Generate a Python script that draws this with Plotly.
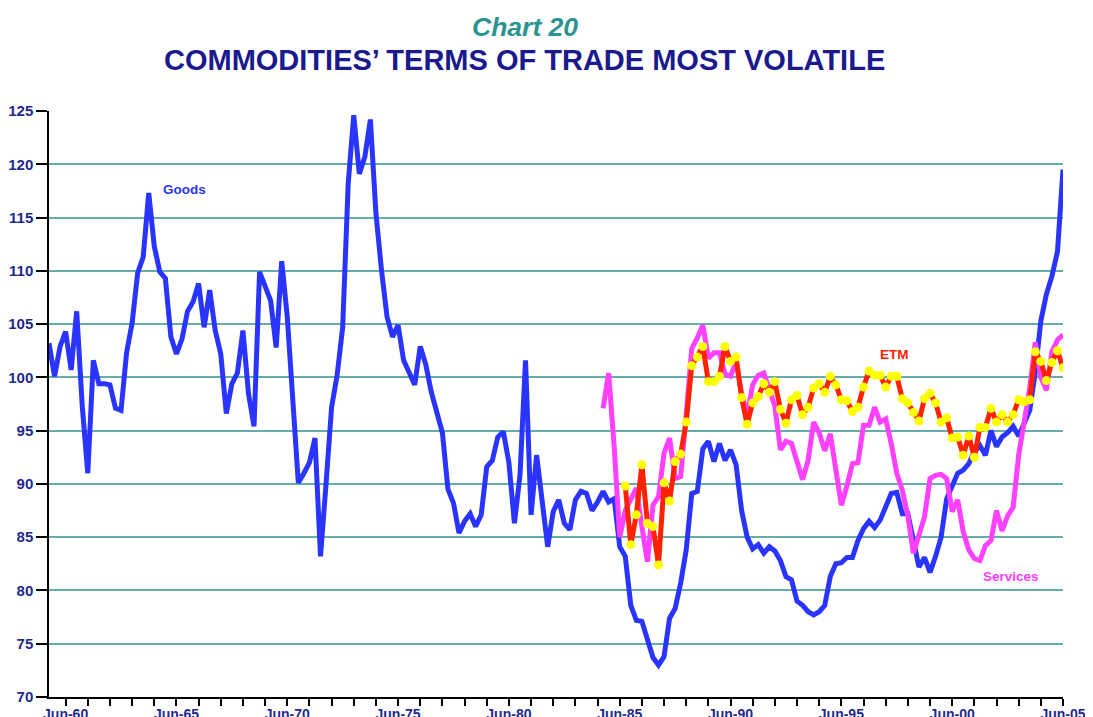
import plotly.graph_objects as go

# Quarterly series, first quarter = Sep-59
start_year = 1959.75

goods = [
    103.2, 100.1, 102.9, 104.3, 100.7, 106.2, 97.3, 91.0, 101.6, 99.4,
    99.4, 99.3, 97.1, 96.9, 102.3, 105.1, 109.8, 111.3, 117.3, 112.3,
    109.9, 109.3, 103.8, 102.2, 103.6, 106.2, 107.1, 108.8, 104.7, 108.2,
    104.4, 102.2, 96.6, 99.4, 100.4, 104.4, 98.5, 95.4, 109.9, 108.6,
    107.2, 102.8, 110.9, 105.7, 98.0, 90.1, 91.0, 92.0, 94.3, 83.2,
    90.0, 97.2, 100.2, 104.7, 118.2, 124.6, 119.1, 120.7, 124.2, 115.4,
    110.1, 105.7, 103.8, 104.9, 101.6, 100.5, 99.3, 102.9, 101.2, 98.6,
    96.5, 94.8, 89.5, 88.2, 85.4, 86.5, 87.2, 86.0, 87.1, 91.6,
    92.2, 94.4, 94.9, 92.0, 86.3, 90.8, 101.6, 87.1, 92.7, 88.5,
    84.1, 87.4, 88.5, 86.3, 85.7, 88.5, 89.3, 89.1, 87.5, 88.3,
    89.3, 88.3, 88.6, 84.1, 83.2, 78.6, 77.2, 77.1, 75.5, 73.7,
    73.0, 73.8, 77.4, 78.3, 80.7, 83.8, 89.1, 89.3, 93.3, 94.0,
    92.1, 93.8, 92.2, 93.2, 91.8, 87.5, 85.0, 83.9, 84.3, 83.5,
    84.1, 83.7, 82.8, 81.3, 81.0, 79.0, 78.6, 78.0, 77.7, 78.0,
    78.6, 81.3, 82.5, 82.6, 83.1, 83.1, 84.7, 85.8, 86.5, 85.9,
    86.6, 88.0, 89.1, 89.2, 87.2, 87.2, 84.7, 82.2, 83.1, 81.7,
    83.2, 85.0, 88.6, 89.9, 91.0, 91.3, 91.9, 93.0, 93.6, 92.7,
    95.0, 93.5, 94.4, 94.8, 95.4, 94.5, 95.7, 96.9, 100.5, 105.3,
    107.8, 109.5, 111.8, 119.5,
]

services_start = 100  # quarter index (Jun-84)
services = [
    97.1, 100.4, 93.5, 85.0, 87.5, 88.5, 89.6, 86.0, 82.7, 88.0,
    88.8, 92.9, 94.3, 90.5, 90.7, 96.5, 102.7, 103.7, 104.9, 101.8,
    102.3, 102.3, 100.3, 100.1, 101.5, 98.5, 96.5, 99.3, 100.2, 100.4,
    99.0, 97.3, 93.2, 94.0, 93.8, 92.0, 90.4, 92.2, 95.8, 94.8,
    93.1, 94.7, 91.3, 88.0, 89.8, 91.9, 92.0, 95.5, 95.5, 97.2,
    95.8, 96.1, 93.8, 91.0, 89.4, 87.0, 83.5, 85.2, 86.9, 90.5,
    90.8, 90.9, 90.5, 87.4, 88.5, 85.5, 83.8, 83.0, 82.8, 84.2,
    84.7, 87.5, 85.6, 87.0, 87.8, 92.7, 95.8, 99.0, 103.3, 100.0,
    98.8, 102.4, 103.5, 104.0,
]

etm_start = 104  # quarter index (Jun-85)
etm = [
    89.8, 84.3, 87.1, 91.8, 86.3, 86.0, 82.4, 90.1, 88.4, 92.1,
    92.8, 95.8, 101.1, 101.9, 102.9, 99.6, 99.6, 100.1, 102.9, 101.5,
    101.9, 98.1, 95.6, 97.6, 98.2, 99.4, 98.6, 99.6, 97.0, 95.7,
    97.9, 98.3, 96.5, 97.2, 99.0, 99.4, 98.6, 100.1, 99.3, 97.9,
    97.8, 96.8, 97.2, 99.1, 100.6, 100.2, 100.2, 99.1, 100.1, 100.1,
    98.0, 97.6, 96.7, 95.9, 98.0, 98.5, 97.6, 95.8, 96.2, 94.3,
    94.4, 92.7, 94.5, 92.5, 95.3, 95.3, 97.1, 95.8, 96.5, 95.8,
    96.5, 97.9, 97.7, 97.9, 102.4, 101.5, 99.7, 101.4, 102.5, 100.9,
]

tick_years = list(range(1960, 2006))
tick_labels = [f"Jun-{y % 100:02d}" if (y - 1960) % 5 == 0 else "" for y in tick_years]
y_ticks = [70, 75, 80, 85, 90, 95, 100, 105, 110, 115, 120, 125]


def quarter_x(n, offset):
    return [start_year + 0.25 * (offset + i) for i in range(n)]


NAVY = "#1f2a8e"
FONT = "Liberation Sans, Arial, sans-serif"

fig = go.Figure()
fig.add_trace(go.Scatter(
    x=quarter_x(len(goods), 0), y=goods, mode="lines", name="Goods",
    line=dict(color="#2a34ff", width=5),
))
fig.add_trace(go.Scatter(
    x=quarter_x(len(services), services_start), y=services, mode="lines", name="Services",
    line=dict(color="#ff40ff", width=5),
))
fig.add_trace(go.Scatter(
    x=quarter_x(len(etm), etm_start), y=etm, mode="lines+markers", name="ETM",
    line=dict(color="#ff2200", width=5),
    marker=dict(color="#ffff00", size=9, line=dict(width=0)),
))

fig.update_layout(
    width=1085, height=709,
    margin=dict(l=41, r=30, t=103, b=20),
    paper_bgcolor="white", plot_bgcolor="white",
    showlegend=False,
    font=dict(family=FONT, color=NAVY),
    xaxis=dict(
        range=[start_year, 2005.5],
        automargin=False,
        tickmode="array",
        tickvals=[y + 0.5 for y in tick_years],
        ticktext=tick_labels,
        ticks="outside", ticklen=7, tickwidth=1.5, tickcolor="black",
        ticklabelstandoff=-4,
        showline=True, linecolor="black", linewidth=1.5,
        showgrid=False, zeroline=False,
        tickfont=dict(family=FONT, size=14, color=NAVY, weight="bold"),
    ),
    yaxis=dict(
        range=[70, 125],
        automargin=False,
        tickmode="array", tickvals=y_ticks,
        ticks="outside", ticklen=11, tickwidth=1.5, tickcolor="black",
        showline=True, linecolor="black", linewidth=1.5,
        showgrid=True, gridcolor="#66acac", gridwidth=1.5,
        zeroline=False,
        tickfont=dict(family=FONT, size=15, color=NAVY, weight="bold"),
    ),
    annotations=[
        dict(text="<b><i>Chart 20</i></b>", xref="paper", yref="paper",
             x=0.469, y=1.1433, xanchor="center", yanchor="middle", showarrow=False,
             font=dict(family=FONT, size=26.5, color="#2a9490")),
        dict(text="<b>COMMODITIES’ TERMS OF TRADE MOST VOLATILE</b>", xref="paper", yref="paper",
             x=0.469, y=1.087, xanchor="center", yanchor="middle", showarrow=False,
             font=dict(family=FONT, size=29, color="#1a1a8e")),
        dict(text="<b>Goods</b>", xref="x", yref="y", x=1965.88, y=117.6,
             showarrow=False, font=dict(family=FONT, size=13.5, color="#2a34ff")),
        dict(text="<b>ETM</b>", xref="x", yref="y", x=1997.88, y=102.1,
             showarrow=False, font=dict(family=FONT, size=13.5, color="#ff2200")),
        dict(text="<b>Services</b>", xref="x", yref="y", x=2003.16, y=81.3,
             showarrow=False, font=dict(family=FONT, size=13.5, color="#ff40ff")),
    ],
)

fig.write_html("out.html")
